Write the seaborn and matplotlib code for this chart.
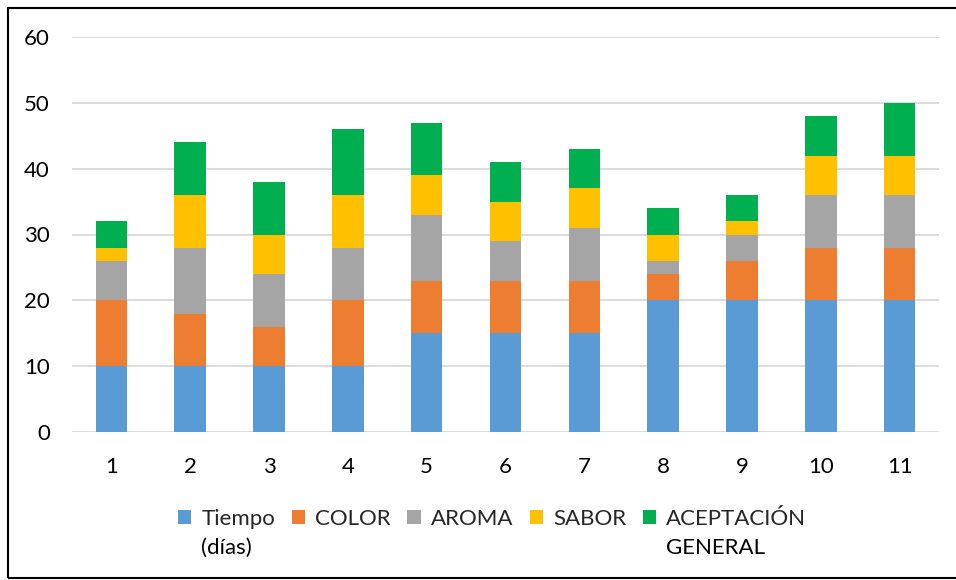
import matplotlib
matplotlib.use("Agg")
import matplotlib.pyplot as plt
from matplotlib.patches import Patch, Rectangle
import numpy as np
import pandas as pd
import seaborn as sns

# Evaluation days and scores per attribute
dias = ["1", "2", "3", "4", "5", "6", "7", "8", "9", "10", "11"]
tiempo = [10, 10, 10, 10, 15, 15, 15, 20, 20, 20, 20]
color = [10, 8, 6, 10, 8, 8, 8, 4, 6, 8, 8]
aroma = [6, 10, 8, 8, 10, 6, 8, 2, 4, 8, 8]
sabor = [2, 8, 6, 8, 6, 6, 6, 4, 2, 6, 6]
aceptacion = [4, 8, 8, 10, 8, 6, 6, 4, 4, 6, 8]

series_names = ["Tiempo\n(días)", "COLOR", "AROMA", "SABOR", "ACEPTACIÓN\nGENERAL"]
series_values = [tiempo, color, aroma, sabor, aceptacion]
palette = ["#5B9BD5", "#ED7D31", "#A5A5A5", "#FFC000", "#00B050"]

sns.set_theme(style="white")
plt.rcParams["font.family"] = ["Lato", "DejaVu Sans"]
FS = 16

W, H = 956, 580
fig = plt.figure(figsize=(W / 100, H / 100), dpi=100)
ax = fig.add_axes([72 / W, 1 - 432 / H, (939 - 72) / W, (432 - 37) / H])

bottom = np.zeros(len(dias))
for name, vals, col in zip(series_names, series_values, palette):
    df = pd.DataFrame({"dia": dias, "valor": vals})
    sns.barplot(data=df, x="dia", y="valor", order=dias, color=col,
                width=0.4, bottom=bottom.copy(), ax=ax, saturation=1,
                edgecolor="none", linewidth=0, zorder=3)
    bottom += np.array(vals)

ax.set_xlim(-0.5, len(dias) - 0.5)
ax.set_ylim(0, 60)
ax.set_yticks(range(0, 61, 10))
ax.yaxis.grid(True, color="#d9d9d9", linewidth=1.3, zorder=0)
ax.set_axisbelow(True)
for s in ax.spines.values():
    s.set_visible(False)
ax.set_xlabel("")
ax.set_ylabel("")
ax.tick_params(axis="both", length=0, labelsize=FS, colors="#000000")
ax.tick_params(axis="x", pad=18)
ax.tick_params(axis="y", pad=16)

# Legend: first line of each label in the legend, wrapped part placed below it
first_lines = [n.split("\n")[0] for n in series_names]
handles = [Patch(facecolor=c, edgecolor="none") for c in palette]
leg = fig.legend(handles, first_lines, loc="upper center",
                 bbox_to_anchor=(0.5 + 14 / W, 1 - 489 / H), ncol=5, frameon=False,
                 fontsize=FS, handlelength=0.6, handleheight=0.6,
                 handletextpad=0.45, columnspacing=0.75)

fig.canvas.draw()
inv = fig.transFigure.inverted()
for name, txt in zip(series_names, leg.get_texts()):
    parts = name.split("\n")
    if len(parts) > 1:
        bb = txt.get_window_extent()
        x0, y0 = inv.transform((bb.x0, bb.y0))
        fig.text(x0, y0 - 29 / H, parts[1], fontsize=FS, ha="left",
                 va="bottom", color="black")

# Outer frame of the chart area
fig.patches.append(Rectangle((8 / W, 1 - 578 / H), (W + 10 - 8) / W, (578 - 8) / H,
                             transform=fig.transFigure, fill=False,
                             edgecolor="black", linewidth=1.5))

fig.savefig("out.png", dpi=100)
